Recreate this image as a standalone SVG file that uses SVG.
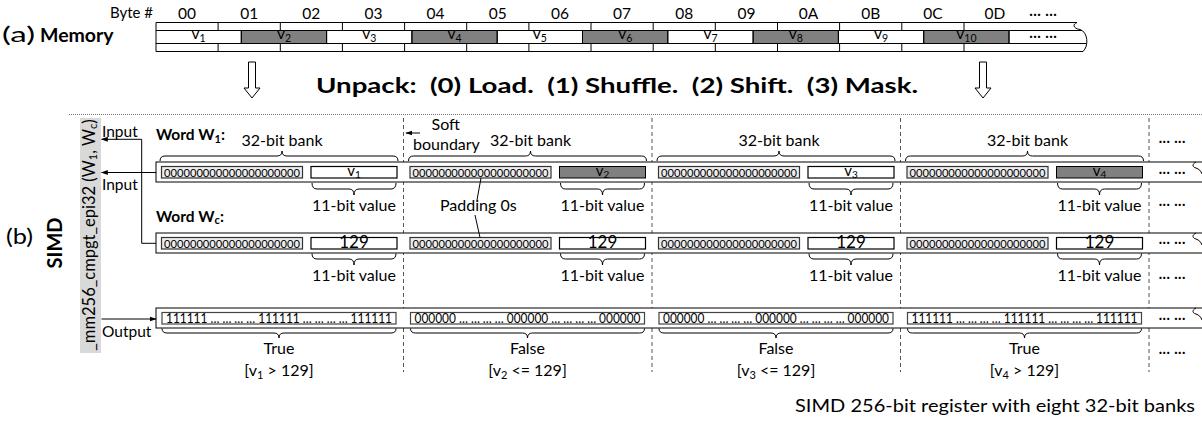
<svg xmlns="http://www.w3.org/2000/svg" width="1202" height="426" viewBox="0 0 1202 426">
<defs>
<style>
.t{font-family:Lato,"Liberation Sans",sans-serif;fill:#000}
.b{font-weight:bold}
.ln{stroke:#000;stroke-width:1;fill:none}
.gray{fill:#808080;stroke:#000;stroke-width:1}
.wbox{fill:#fff;stroke:#000;stroke-width:1.2}
.pad{fill:#ececec;stroke:#333;stroke-width:1.2}
.obox{fill:#fff;stroke:#444;stroke-width:1.2}
.reg{fill:#fff;stroke:#000;stroke-width:1}
.dash{stroke:#555;stroke-width:1;stroke-dasharray:4 3;fill:none}
.brace{stroke:#000;stroke-width:1;fill:none}
.m{text-anchor:middle}
</style>
<marker id="ah" viewBox="0 0 10 10" refX="9" refY="5" markerWidth="7" markerHeight="7" orient="auto-start-reverse" markerUnits="userSpaceOnUse">
<path d="M0,1.5 L10,5 L0,8.5 Z" fill="#000"/>
</marker>
</defs>
<rect width="1202" height="426" fill="#fff"/>

<!-- (a) Memory -->
<g id="label-a">
<text class="t" x="2" y="42" font-size="22" textLength="33" lengthAdjust="spacingAndGlyphs">(a)</text>
<text class="t b" x="40" y="42" font-size="19.5">Memory</text>
<text class="t" x="110" y="18" font-size="15" textLength="43" lengthAdjust="spacingAndGlyphs">Byte #</text>
</g>
<g id="memory">
<rect x="156" y="22.5" width="924" height="29" fill="#fff"/>
<rect class="gray" x="241.3" y="30.5" width="85.3" height="13"/>
<rect class="gray" x="411.9" y="30.5" width="85.3" height="13"/>
<rect class="gray" x="582.5" y="30.5" width="85.3" height="13"/>
<rect class="gray" x="753.1" y="30.5" width="85.3" height="13"/>
<rect class="gray" x="923.7" y="30.5" width="85.3" height="13"/>
<path class="ln" d="M156,22.5 H1077 M156,51.5 H1083 M156,30.5 H1082 M156,43.5 H1086 M156,22.5 V51.5"/>
<path class="ln" d="M1077,22.5 C1071,25 1075,29 1080,29.5 C1088,32 1089,46 1083,51.5"/>
<path class="ln" d="M241.3,30.5V43.5 M326.6,30.5V43.5 M411.9,30.5V43.5 M497.2,30.5V43.5 M582.5,30.5V43.5 M667.8,30.5V43.5 M753.1,30.5V43.5 M838.4,30.5V43.5 M923.7,30.5V43.5 M1009,30.5V43.5"/>
<path class="ln" d="M218.1,22.5V30.5 M280.3,22.5V30.5 M342.4,22.5V30.5 M404.6,22.5V30.5 M466.7,22.5V30.5 M528.9,22.5V30.5 M591,22.5V30.5 M653.2,22.5V30.5 M715.3,22.5V30.5 M777.5,22.5V30.5 M839.6,22.5V30.5 M901.8,22.5V30.5 M964,22.5V30.5"/>
<path class="ln" d="M218.1,43.5V51.5 M280.3,43.5V51.5 M342.4,43.5V51.5 M404.6,43.5V51.5 M466.7,43.5V51.5 M528.9,43.5V51.5 M591,43.5V51.5 M653.2,43.5V51.5 M715.3,43.5V51.5 M777.5,43.5V51.5 M839.6,43.5V51.5 M901.8,43.5V51.5 M964,43.5V51.5"/>
<g class="t m" font-size="15.5">
<text x="187" y="18.5">00</text><text x="249.2" y="18.5">01</text><text x="311.3" y="18.5">02</text><text x="373.5" y="18.5">03</text>
<text x="435.6" y="18.5">04</text><text x="497.8" y="18.5">05</text><text x="560" y="18.5">06</text><text x="622.1" y="18.5">07</text>
<text x="684.2" y="18.5">08</text><text x="746.4" y="18.5">09</text><text x="808.5" y="18.5">0A</text><text x="870.7" y="18.5">0B</text>
<text x="932.9" y="18.5">0C</text><text x="995" y="18.5">0D</text>
<text x="1043" y="18.5">··· ···</text>
<text x="1043" y="41">··· ···</text>
</g>
<g class="t m" font-size="15.5">
<text x="198.6" y="38.5">v<tspan font-size="10.5" dy="3">1</tspan></text>
<text x="284" y="38.5">v<tspan font-size="10.5" dy="3">2</tspan></text>
<text x="369.2" y="38.5">v<tspan font-size="10.5" dy="3">3</tspan></text>
<text x="454.5" y="38.5">v<tspan font-size="10.5" dy="3">4</tspan></text>
<text x="539.8" y="38.5">v<tspan font-size="10.5" dy="3">5</tspan></text>
<text x="625.2" y="38.5">v<tspan font-size="10.5" dy="3">6</tspan></text>
<text x="710.5" y="38.5">v<tspan font-size="10.5" dy="3">7</tspan></text>
<text x="795.8" y="38.5">v<tspan font-size="10.5" dy="3">8</tspan></text>
<text x="881" y="38.5">v<tspan font-size="10.5" dy="3">9</tspan></text>
<text x="966.4" y="38.5">v<tspan font-size="10.5" dy="3">10</tspan></text>
</g>
</g>

<!-- hollow arrows and title -->
<g id="arrow-left"><path d="M248.5,62 H255.5 V88 H260 L252,98 L244,88 H248.5 Z" fill="#fff" stroke="#000" stroke-width="1"/></g>
<g id="arrow-right"><path d="M979.5,62 H986.5 V88 H991 L983,98 L975,88 H979.5 Z" fill="#fff" stroke="#000" stroke-width="1"/></g>
<g id="title"><text class="t b" x="316" y="93" font-size="20.5" textLength="602" lengthAdjust="spacingAndGlyphs" xml:space="preserve">Unpack:  (0) Load.  (1) Shuffle.  (2) Shift.  (3) Mask.</text></g>
<line x1="69" y1="114.5" x2="1202" y2="114.5" stroke="#777" stroke-width="1" stroke-dasharray="1 1"/>

<!-- (b) SIMD -->
<g id="label-b">
<text class="t" x="6" y="244" font-size="22" textLength="27" lengthAdjust="spacingAndGlyphs">(b)</text>
<text class="t b m" transform="translate(61.5,243) rotate(-90)" font-size="20">SIMD</text>
</g>
<g id="intrinsic">
<rect x="80" y="118" width="21" height="235" fill="#d9d9d9"/>
<text class="t m" transform="translate(94.5,235) rotate(-90)" font-size="16.5">_mm256_cmpgt_epi32 (W<tspan font-size="11" dy="2">1</tspan><tspan dy="-2">, W</tspan><tspan font-size="11" dy="2">c</tspan><tspan dy="-2">)</tspan></text>
</g>

<!-- soft boundaries -->
<g id="boundaries">
<path class="dash" d="M403.5,118 V372 M652,118 V372 M900.5,118 V372 M1149,118 V372"/>
</g>
<g id="soft-boundary-label">
<text class="t" x="431.5" y="129.5" font-size="16">Soft</text>
<text class="t" x="413" y="150" font-size="16">boundary</text>
<line class="ln" x1="420" y1="133" x2="406" y2="133" marker-end="url(#ah)"/>
</g>

<!-- Word labels -->
<g id="word-w1-label"><text class="t b" x="156" y="140" font-size="15.5">Word W<tspan font-size="11" dy="2.5">1</tspan><tspan dy="-2.5">:</tspan></text></g>
<g id="word-wc-label"><text class="t b" x="156" y="221.5" font-size="15.5">Word W<tspan font-size="11" dy="2.5">c</tspan><tspan dy="-2.5">:</tspan></text></g>

<!-- registers -->
<g id="register-w1">
<rect class="reg" x="156" y="162" width="1060" height="20"/>
<path class="ln" d="M1196,162 c-4,2 -4,5 0,6 c3,1 5,3 6,6"/>
</g>
<g id="register-wc">
<rect class="reg" x="156" y="233" width="1060" height="20"/>
<path class="ln" d="M1196,233 c-4,2 -4,5 0,6 c3,1 5,3 6,6"/>
</g>
<g id="register-out">
<rect class="reg" x="156" y="308" width="1060" height="20"/>
<path class="ln" d="M1196,308 c-4,2 -4,5 0,6 c3,1 5,3 6,6"/>
</g>

<!-- bank contents -->
<g id="bank1">
<rect class="pad" x="161.5" y="166.5" width="141" height="11.5"/>
<text class="t" x="164" y="176.5" font-size="11.5" textLength="136" lengthAdjust="spacingAndGlyphs">000000000000000000000</text>
<rect class="wbox" x="311" y="166.5" width="86" height="11.5"/>
<text class="t m" x="354" y="175.5" font-size="15">v<tspan font-size="10" dy="2.5">1</tspan></text>
<rect class="pad" x="161.5" y="237.5" width="141" height="11.5"/>
<text class="t" x="164" y="247.5" font-size="11.5" textLength="136" lengthAdjust="spacingAndGlyphs">000000000000000000000</text>
<rect class="wbox" x="311" y="237.5" width="86" height="11.5"/>
<text class="t m" x="354" y="247.5" font-size="17">129</text>
<rect class="obox" x="162" y="312.5" width="234" height="11.5"/>
<text class="t" x="166" y="323" font-size="12.5" textLength="226" lengthAdjust="spacingAndGlyphs">111111 … … … … 111111 … … … … 111111</text>
</g>
<g id="bank2">
<rect class="pad" x="410" y="166.5" width="141" height="11.5"/>
<text class="t" x="412.5" y="176.5" font-size="11.5" textLength="136" lengthAdjust="spacingAndGlyphs">000000000000000000000</text>
<rect class="gray" x="559.5" y="166.5" width="86" height="11.5"/>
<text class="t m" x="602.5" y="175.5" font-size="15">v<tspan font-size="10" dy="2.5">2</tspan></text>
<rect class="pad" x="410" y="237.5" width="141" height="11.5"/>
<text class="t" x="412.5" y="247.5" font-size="11.5" textLength="136" lengthAdjust="spacingAndGlyphs">000000000000000000000</text>
<rect class="wbox" x="559.5" y="237.5" width="86" height="11.5"/>
<text class="t m" x="602.5" y="247.5" font-size="17">129</text>
<rect class="obox" x="410.5" y="312.5" width="234" height="11.5"/>
<text class="t" x="414.5" y="323" font-size="12.5" textLength="226" lengthAdjust="spacingAndGlyphs">000000 … … … … 000000 … … … … 000000</text>
</g>
<g id="bank3">
<rect class="pad" x="658.5" y="166.5" width="141" height="11.5"/>
<text class="t" x="661" y="176.5" font-size="11.5" textLength="136" lengthAdjust="spacingAndGlyphs">000000000000000000000</text>
<rect class="wbox" x="808" y="166.5" width="86" height="11.5"/>
<text class="t m" x="851" y="175.5" font-size="15">v<tspan font-size="10" dy="2.5">3</tspan></text>
<rect class="pad" x="658.5" y="237.5" width="141" height="11.5"/>
<text class="t" x="661" y="247.5" font-size="11.5" textLength="136" lengthAdjust="spacingAndGlyphs">000000000000000000000</text>
<rect class="wbox" x="808" y="237.5" width="86" height="11.5"/>
<text class="t m" x="851" y="247.5" font-size="17">129</text>
<rect class="obox" x="659" y="312.5" width="234" height="11.5"/>
<text class="t" x="663" y="323" font-size="12.5" textLength="226" lengthAdjust="spacingAndGlyphs">000000 … … … … 000000 … … … … 000000</text>
</g>
<g id="bank4">
<rect class="pad" x="907" y="166.5" width="141" height="11.5"/>
<text class="t" x="909.5" y="176.5" font-size="11.5" textLength="136" lengthAdjust="spacingAndGlyphs">000000000000000000000</text>
<rect class="gray" x="1056.5" y="166.5" width="86" height="11.5"/>
<text class="t m" x="1099.5" y="175.5" font-size="15">v<tspan font-size="10" dy="2.5">4</tspan></text>
<rect class="pad" x="907" y="237.5" width="141" height="11.5"/>
<text class="t" x="909.5" y="247.5" font-size="11.5" textLength="136" lengthAdjust="spacingAndGlyphs">000000000000000000000</text>
<rect class="wbox" x="1056.5" y="237.5" width="86" height="11.5"/>
<text class="t m" x="1099.5" y="247.5" font-size="17">129</text>
<rect class="obox" x="907.5" y="312.5" width="234" height="11.5"/>
<text class="t" x="911.5" y="323" font-size="12.5" textLength="226" lengthAdjust="spacingAndGlyphs">111111 … … … … 111111 … … … … 111111</text>
</g>

<!-- braces and labels -->
<g id="braces">
<path class="brace" d="M160,161 Q160,156 165,156 L277,156 Q282,156 282,151 Q282,156 287,156 L393,156 Q398,156 398,161"/>
<path class="brace" d="M408.5,161 Q408.5,156 413.5,156 L525.5,156 Q530.5,156 530.5,151 Q530.5,156 535.5,156 L641.5,156 Q646.5,156 646.5,161"/>
<path class="brace" d="M657,161 Q657,156 662,156 L774,156 Q779,156 779,151 Q779,156 784,156 L890,156 Q895,156 895,161"/>
<path class="brace" d="M905.5,161 Q905.5,156 910.5,156 L1022.5,156 Q1027.5,156 1027.5,151 Q1027.5,156 1032.5,156 L1138.5,156 Q1143.5,156 1143.5,161"/>

<path class="brace" d="M312,183 Q312,189 317,189 L349,189 Q354,189 354,195 Q354,189 359,189 L391,189 Q396,189 396,183"/>
<path class="brace" d="M560.5,183 Q560.5,189 565.5,189 L597.5,189 Q602.5,189 602.5,195 Q602.5,189 607.5,189 L639.5,189 Q644.5,189 644.5,183"/>
<path class="brace" d="M809,183 Q809,189 814,189 L846,189 Q851,189 851,195 Q851,189 856,189 L888,189 Q893,189 893,183"/>
<path class="brace" d="M1057.5,183 Q1057.5,189 1062.5,189 L1094.5,189 Q1099.5,189 1099.5,195 Q1099.5,189 1104.5,189 L1136.5,189 Q1141.5,189 1141.5,183"/>

<path class="brace" d="M312,253.5 Q312,259 317,259 L349,259 Q354,259 354,265 Q354,259 359,259 L391,259 Q396,259 396,253.5"/>
<path class="brace" d="M560.5,253.5 Q560.5,259 565.5,259 L597.5,259 Q602.5,259 602.5,265 Q602.5,259 607.5,259 L639.5,259 Q644.5,259 644.5,253.5"/>
<path class="brace" d="M809,253.5 Q809,259 814,259 L846,259 Q851,259 851,265 Q851,259 856,259 L888,259 Q893,259 893,253.5"/>
<path class="brace" d="M1057.5,253.5 Q1057.5,259 1062.5,259 L1094.5,259 Q1099.5,259 1099.5,265 Q1099.5,259 1104.5,259 L1136.5,259 Q1141.5,259 1141.5,253.5"/>

<path class="brace" d="M162,328.5 Q162,333 167,333 L274,333 Q279,333 279,338 Q279,333 284,333 L391,333 Q396,333 396,328.5"/>
<path class="brace" d="M410.5,328.5 Q410.5,333 415.5,333 L522.5,333 Q527.5,333 527.5,338 Q527.5,333 532.5,333 L639.5,333 Q644.5,333 644.5,328.5"/>
<path class="brace" d="M659,328.5 Q659,333 664,333 L771,333 Q776,333 776,338 Q776,333 781,333 L888,333 Q893,333 893,328.5"/>
<path class="brace" d="M907.5,328.5 Q907.5,333 912.5,333 L1019.5,333 Q1024.5,333 1024.5,338 Q1024.5,333 1029.5,333 L1136.5,333 Q1141.5,333 1141.5,328.5"/>
</g>
<g id="brace-labels" class="t m" font-size="16">
<text x="282" y="146">32-bit bank</text>
<text x="530.5" y="146">32-bit bank</text>
<text x="779" y="146">32-bit bank</text>
<text x="1027.5" y="146">32-bit bank</text>
<text x="354" y="211">11-bit value</text>
<text x="602.5" y="211">11-bit value</text>
<text x="851" y="211">11-bit value</text>
<text x="1099.5" y="211">11-bit value</text>
<text x="354" y="281">11-bit value</text>
<text x="602.5" y="281">11-bit value</text>
<text x="851" y="281">11-bit value</text>
<text x="1099.5" y="281">11-bit value</text>
<text x="279" y="354">True</text>
<text x="527.5" y="354">False</text>
<text x="776" y="354">False</text>
<text x="1024.5" y="354">True</text>
<text x="279" y="376">[v<tspan font-size="11" dy="2.5">1</tspan><tspan dy="-2.5"> &gt; 129]</tspan></text>
<text x="527.5" y="376">[v<tspan font-size="11" dy="2.5">2</tspan><tspan dy="-2.5"> &lt;= 129]</tspan></text>
<text x="776" y="376">[v<tspan font-size="11" dy="2.5">3</tspan><tspan dy="-2.5"> &lt;= 129]</tspan></text>
<text x="1024.5" y="376">[v<tspan font-size="11" dy="2.5">4</tspan><tspan dy="-2.5"> &gt; 129]</tspan></text>
</g>
<g id="padding-label">
<text class="t" x="440" y="211" font-size="16">Padding 0s</text>
</g>
<g id="ellipsis-right" class="t m" font-size="15">
<text x="1172" y="146">··· ···</text>
<text x="1172" y="177">··· ···</text>
<text x="1172" y="209">··· ···</text>
<text x="1172" y="247">··· ···</text>
<text x="1172" y="282">··· ···</text>
<text x="1172" y="323">··· ···</text>
<text x="1172" y="357">··· ···</text>
</g>

<!-- connectors -->
<g id="connectors">
<path class="ln" d="M481,178 L477,200 M475,215 L480,237.5"/>
<path class="ln" d="M156,243.3 H141.7 V139.3 H101.5" marker-end="url(#ah)"/>
<path class="ln" d="M156,172.5 H101.5" marker-end="url(#ah)"/>
<path class="ln" d="M101.5,319 H156" marker-end="url(#ah)"/>
</g>
<g id="io-labels" class="t" font-size="15.5">
<text x="102" y="136.5">Input</text>
<text x="102" y="190">Input</text>
<text x="102" y="337">Output</text>
</g>

<g id="caption"><text class="t" x="795" y="412" font-size="17" textLength="400" lengthAdjust="spacingAndGlyphs">SIMD 256-bit register with eight 32-bit banks</text></g>
</svg>
